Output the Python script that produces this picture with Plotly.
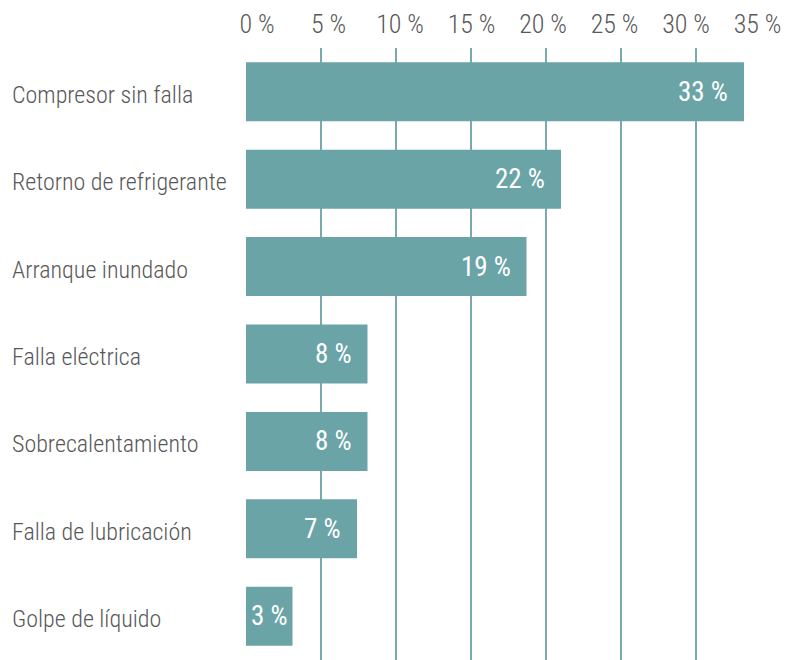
import plotly.graph_objects as go

categorias = ["Compresor sin falla", "Retorno de refrigerante", "Arranque inundado",
              "Falla eléctrica", "Sobrecalentamiento", "Falla de lubricación", "Golpe de líquido"]
valores = [33.2, 21.0, 18.7, 8.1, 8.1, 7.4, 3.1]
etiquetas = ["33 %", "22 %", "19 %", "8 %", "8 %", "7 %", "3 %"]
ticks = [0, 5, 10, 15, 20, 25, 30, 35]
tick_text = ["0 %", "5 %", "10 %", "15 %", "20 %", "25 %", "30 %", "35 %"]

fuente = "Roboto Condensed, Roboto, sans-serif"
teal = "#6ba4a7"
gris = "#585858"

fig = go.Figure()
fig.add_trace(go.Bar(
    x=valores, y=categorias, orientation="h",
    marker=dict(color=teal, line=dict(width=0)),
    width=0.675, hoverinfo="skip",
))
# eje auxiliar solo para los rotulos de arriba (van algo desplazados de la reja)
fig.add_trace(go.Scatter(x=[0, 35], y=[categorias[0], categorias[0]], xaxis="x2",
                         mode="markers", marker=dict(opacity=0), hoverinfo="skip"))

# etiquetas blancas dentro de la barra
for c, v, t in zip(categorias, valores, etiquetas):
    if v < 5:
        fig.add_annotation(x=v / 2, y=c, text=t, showarrow=False, xanchor="center",
                           font=dict(family=fuente, size=27, color="white"))
    else:
        fig.add_annotation(x=v, y=c, text=t, showarrow=False, xanchor="right",
                           xshift=-14, font=dict(family=fuente, size=27, color="white"))

# nombres de categoria alineados a la izquierda
for c in categorias:
    fig.add_annotation(x=-236 / 525, xref="paper", y=c, text=c, showarrow=False,
                       xanchor="left", yshift=-3,
                       font=dict(family=fuente, size=24, color=gris, weight=300))

# la pagina tiene 8 px de margen en el body, por eso 792x652
fig.update_layout(
    width=792, height=652,
    margin=dict(l=238, r=29, t=40, b=0),
    plot_bgcolor="white", paper_bgcolor="white",
    showlegend=False,
    xaxis=dict(range=[0, 35], tickvals=ticks, showticklabels=False,
               showgrid=True, gridcolor="#79aaad", gridwidth=2,
               zeroline=False, showline=False, ticks="",
               automargin=False, fixedrange=True),
    xaxis2=dict(range=[-0.77, 35.94], overlaying="x", side="top",
                tickvals=ticks, ticktext=tick_text, showgrid=False,
                zeroline=False, showline=False, ticks="", ticklabelstandoff=9,
                tickfont=dict(family=fuente, size=26, color=gris, weight=300),
                automargin=False, fixedrange=True),
    yaxis=dict(autorange="reversed", showticklabels=False, showgrid=False,
               zeroline=False, showline=False, ticks="", fixedrange=True,
               automargin=False),
)

fig.write_html("out.html")
